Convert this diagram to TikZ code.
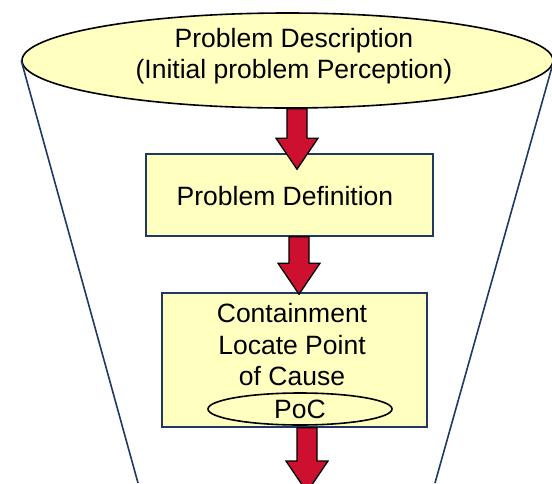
\documentclass[tikz,border=0pt]{standalone}
\usepackage{fontspec}
\setmainfont{Liberation Sans}
\usetikzlibrary{calc,shapes.geometric}

\definecolor{paleyellow}{RGB}{255,255,192}
\definecolor{arrowred}{RGB}{206,16,48}
\definecolor{funnelblue}{RGB}{31,56,100}

\tikzset{
  stage/.style={draw=funnelblue, line width=1.6pt, fill=paleyellow, inner sep=0pt},
  oval/.style={ellipse, draw=black, line width=1.6pt, fill=paleyellow, inner sep=0pt, align=center},
  funnel/.style={draw=funnelblue, line width=1.6pt},
  bigarrow/.style={draw=black, line width=1.3pt, fill=arrowred, line join=miter},
}

% block arrow straight down from #1 to the tip #2
\newcommand{\blockarrow}[2]{%
  \filldraw[bigarrow] let \p1=(#1), \p2=(#2) in
    (\x1-10pt,\y1) -- (\x1-10pt,\y2+31pt) -- (\x1-21pt,\y2+31pt) -- (\x1,\y2)
    -- (\x1+21pt,\y2+31pt) -- (\x1+10pt,\y2+31pt) -- (\x1+10pt,\y1) -- cycle;}

\begin{document}
\begin{tikzpicture}[x=1pt,y=-1pt,font=\fontsize{26.5}{31.5}\selectfont]
        \useasboundingbox (0,0) rectangle (552,483);
        \clip (0,0) rectangle (552,483);

        \node[oval, minimum width=531pt, minimum height=95pt] (desc) at (287.5,60.5) {};
        \node[align=center, inner sep=0pt] (desctext) at (294,56) {Problem Description\\(Initial problem Perception)};

        \coordinate (lowleft) at (138,483);
        \coordinate (lowright) at (435,483);
        \draw[funnel] (desc.west) -- (lowleft);
        \draw[funnel] (desc.east) -- (lowright);

        \node[stage, minimum width=287pt, minimum height=82pt] (defn) at (289.5,195) {};
        \node[inner sep=0pt] (defntext) at (285,196) {Problem Definition};

        \node[stage, minimum width=265pt, minimum height=134pt] (contain) at (294.5,360) {};
        \node[align=center, inner sep=0pt] (containtext) at (292,345) {Containment\\Locate Point\\of Cause};
        \node[oval, minimum width=184pt, minimum height=32pt] (poc) at (300,409) {PoC};

        \coordinate (out) at (307,492);
        \blockarrow{$(desc.south)+(9.5,0)$}{$(defn.north)+(7.5,16)$}
        \blockarrow{$(defn.south)+(9.5,0)$}{$(contain.north)+(4.5,2)$}
        \blockarrow{$(contain.south)+(12.5,0)$}{out}

\end{tikzpicture}
\end{document}
